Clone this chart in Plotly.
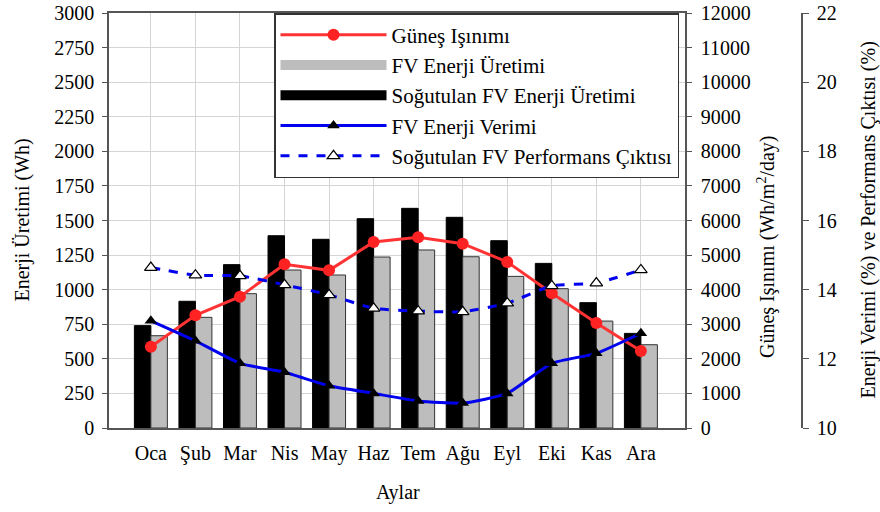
import plotly.graph_objects as go

months = ["Oca", "Şub", "Mar", "Nis", "May", "Haz", "Tem", "Ağu", "Eyl", "Eki", "Kas", "Ara"]
sogutulan_uretim = [740, 916, 1181, 1390, 1364, 1513, 1588, 1523, 1354, 1190, 906, 684]
fv_uretim = [667, 800, 971, 1142, 1106, 1236, 1287, 1238, 1096, 1007, 773, 602]
gunes_isinimi = [2351, 3259, 3798, 4733, 4559, 5379, 5514, 5331, 4801, 3895, 3037, 2227]
fv_verim = [13.1, 12.52, 11.87, 11.61, 11.22, 11.0, 10.78, 10.72, 11.0, 11.87, 12.16, 12.74]
sog_perf = [14.64, 14.42, 14.40, 14.14, 13.85, 13.46, 13.38, 13.36, 13.61, 14.11, 14.19, 14.57]

FONT = "Liberation Serif"
AX = "#555555"
GRID = "#d4d4d4"
BLACK_BAR = "black"
GRAY_BAR = "#bdbdbd"

fig = go.Figure()
fig.add_trace(go.Bar(x=months, y=sogutulan_uretim, name="Soğutulan FV Enerji Üretimi",
                     marker=dict(color=BLACK_BAR, line=dict(color="black", width=1)),
                     showlegend=False, legendgroup="sog", yaxis="y"))
fig.add_trace(go.Bar(x=months, y=fv_uretim, name="FV Enerji Üretimi",
                     marker=dict(color=GRAY_BAR, line=dict(color="#333333", width=1)),
                     showlegend=False, legendgroup="fv", yaxis="y"))
fig.add_trace(go.Scatter(x=months, y=gunes_isinimi, name="Güneş Işınımı", mode="lines+markers",
                         line=dict(color="#ff3333", width=3),
                         marker=dict(symbol="circle", size=12, color="#ff2222"),
                         legendrank=1, yaxis="y2"))
# legend keys for the bar series (wide rectangles as in the reference)
fig.add_trace(go.Scatter(x=[None], y=[None], name="FV Enerji Üretimi", mode="lines",
                         line=dict(color=GRAY_BAR, width=13), legendgroup="fv",
                         legendrank=2, yaxis="y"))
fig.add_trace(go.Scatter(x=[None], y=[None], name="Soğutulan FV Enerji Üretimi", mode="lines",
                         line=dict(color=BLACK_BAR, width=13), legendgroup="sog",
                         legendrank=3, yaxis="y"))
fig.add_trace(go.Scatter(x=months, y=fv_verim, name="FV Enerji Verimi", mode="lines+markers",
                         line=dict(color="#0000ee", width=3, shape="spline", smoothing=0.5),
                         marker=dict(symbol="triangle-up", size=11, color="black"),
                         legendrank=4, yaxis="y3"))
fig.add_trace(go.Scatter(x=months, y=sog_perf, name="Soğutulan FV Performans Çıktısı", mode="lines+markers",
                         line=dict(color="#0000ee", width=3, dash="dash", shape="spline", smoothing=0.5),
                         marker=dict(symbol="triangle-up", size=11, color="white",
                                     line=dict(color="black", width=1.2)),
                         legendrank=5, yaxis="y3"))

W, H = 880, 512
L, R, T, B = 109, 78, 13, 84
pw = W - L - R
ph = H - T - B
xdom_end = (685 - L) / pw
TF = dict(family=FONT, size=20, color="black")

fig.update_layout(
    width=W, height=H,
    margin=dict(l=L, r=R, t=T, b=B, autoexpand=False),
    paper_bgcolor="white", plot_bgcolor="white",
    font=dict(family=FONT, size=20, color="black"),
    barmode="group", bargap=0.26, bargroupgap=0,
    showlegend=True,
    legend=dict(x=(679 - L) / pw, xanchor="right", y=1.0, yanchor="top",
                bgcolor="white", bordercolor="#333333", borderwidth=1.5,
                font=dict(family=FONT, size=21, color="black"), itemwidth=106,
                tracegroupgap=0),
    xaxis=dict(domain=[0, xdom_end], type="category", range=[-0.94, 11.99],
               automargin=False,
               showgrid=True, gridcolor=GRID, gridwidth=1,
               showline=True, linecolor=AX, linewidth=1.5, mirror=True,
               ticks="", tickfont=TF, ticklabelstandoff=6),
    yaxis=dict(range=[0, 3000], dtick=250, showgrid=True, gridcolor=GRID,
               automargin=False,
               showline=True, linecolor=AX, linewidth=1.5, tickformat="d",
               ticks="outside", ticklen=5, tickcolor=AX, tickfont=TF,
               ticklabelstandoff=4, zeroline=False),
    yaxis2=dict(range=[0, 12000], dtick=1000, overlaying="y", side="right", anchor="x",
                automargin=False,
                showgrid=False, showline=True, linecolor=AX, linewidth=1.5, tickformat="d",
                ticks="outside", ticklen=5, tickcolor=AX, tickfont=TF,
                ticklabelstandoff=5, zeroline=False),
    yaxis3=dict(range=[10, 22], dtick=2, overlaying="y", side="right", anchor="free",
                position=1.0, automargin=False,
                showgrid=False, showline=True, linecolor=AX, linewidth=1.5,
                tickformat="d", ticks="outside", ticklen=6, tickcolor=AX, tickfont=TF,
                ticklabelstandoff=4, zeroline=False),
)

AF = dict(family=FONT, size=20, color="black")
fig.add_annotation(text="Enerji Üretimi (Wh)", xref="paper", yref="paper",
                   x=(22 - L) / pw, y=0.5, textangle=-90, showarrow=False,
                   font=AF, xanchor="center", yanchor="middle")
fig.add_annotation(text="Güneş Işınımı (Wh/m<sup>2</sup>/day)", xref="paper", yref="paper",
                   x=(766 - L) / pw, y=(428 - 247) / ph, textangle=-90, showarrow=False,
                   font=AF, xanchor="center", yanchor="middle")
fig.add_annotation(text="Enerji Verimi (%) ve Performans Çıktısı (%)", xref="paper", yref="paper",
                   x=(868 - L) / pw, y=0.5, textangle=-90, showarrow=False,
                   font=AF, xanchor="center", yanchor="middle")
fig.add_annotation(text="Aylar", xref="paper", yref="paper",
                   x=(398 - L) / pw, y=-(492 - 428) / ph, showarrow=False,
                   font=AF, xanchor="center", yanchor="middle")

fig.write_html("out.html")
